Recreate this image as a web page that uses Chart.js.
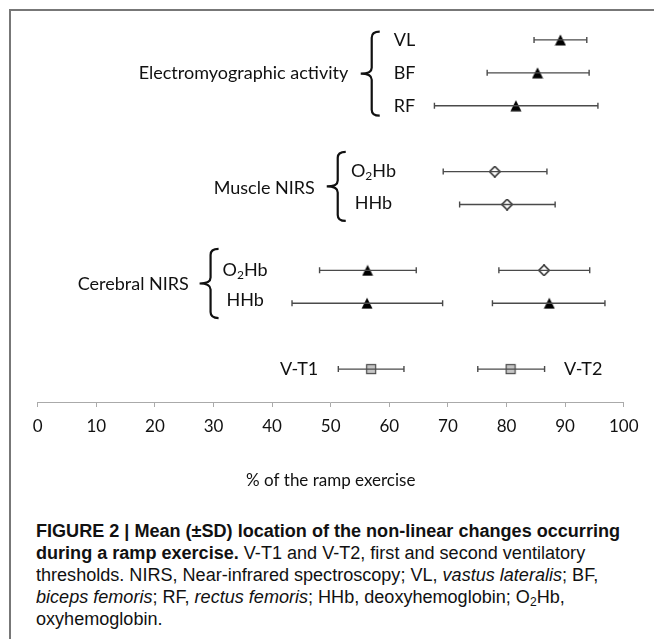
<!DOCTYPE html>
<html>
<head>
<meta charset="utf-8">
<script src="https://cdn.jsdelivr.net/npm/chart.js@4.4.1/dist/chart.umd.min.js"></script>
<style>
  html, body { margin: 0; padding: 0; background: #fff; }
  body { width: 654px; height: 639px; overflow: hidden; position: relative; }
  .edge { position: absolute; background: #777; z-index: 5; }
  #edgeTop { left: 9px; top: 9px; width: 645px; height: 2px; }
  #edgeLeft { left: 9px; top: 9px; width: 2px; height: 630px; }
  #wrap { position: absolute; left: 0; top: 0; width: 654px; height: 510px; }
  #caption { position: absolute; left: 36px; top: 520px; font-family: "Liberation Sans", Arial, sans-serif; font-size: 18px; line-height: 22px; color: #111; }
  #caption div { white-space: nowrap; transform-origin: left center; height: 22px; }
  #caption div span { display: inline-block; }
  #caption sub { font-size: 12px; line-height: 0; vertical-align: -3px; }
</style>
</head>
<body>
<div class="edge" id="edgeTop"></div>
<div class="edge" id="edgeLeft"></div>
<div id="wrap"><canvas id="chart" width="654" height="510"></canvas></div>
<div id="caption">
  <div><span><b>FIGURE 2 | Mean (±SD) location of the non-linear changes occurring</b></span></div>
  <div><span><b>during a ramp exercise.</b> V-T1 and V-T2, first and second ventilatory</span></div>
  <div><span>thresholds. NIRS, Near-infrared spectroscopy; VL, <i>vastus lateralis</i>; BF,</span></div>
  <div><span><i>biceps femoris</i>; RF, <i>rectus femoris</i>; HHb, deoxyhemoglobin; O<sub>2</sub>Hb,</span></div>
  <div><span>oxyhemoglobin.</span></div>
</div>
<script>
// one entry per mark: row level on the hidden y axis, mean and ±SD ends in % of ramp
const rows   = [11, 10, 9, 7, 6, 4, 3, 4, 3, 1, 1];
const means  = [89.2, 85.3, 81.6, 78.0, 80.1, 56.3, 56.2, 86.4, 87.3, 56.9, 80.7];
const lows   = [84.7, 76.7, 67.7, 69.2, 72.0, 48.1, 43.4, 78.7, 77.6, 51.3, 75.1];
const highs  = [93.7, 94.1, 95.6, 86.9, 88.3, 64.6, 69.1, 94.2, 96.8, 62.5, 86.5];
const kinds  = ["triangle", "triangle", "triangle", "diamond", "diamond",
                "triangle", "triangle", "diamond", "triangle", "square", "square"];

const xTicks = [0, 10, 20, 30, 40, 50, 60, 70, 80, 90, 100];

// labels beside the marks
const groupLabels = ["Electromyographic activity", "Muscle NIRS", "Cerebral NIRS"];
const rowLabels = ["VL", "BF", "RF", "O2Hb", "HHb", "O2Hb", "HHb", "V-T1", "V-T2"];

const FONT = "Lato, 'Open Sans', sans-serif";
const TXT = "#111";
const BAR = "#4a4a4a";

function makeMarker(kind) {
  const c = document.createElement("canvas");
  c.width = 12; c.height = 12;
  const g = c.getContext("2d");
  if (kind === "triangle") {
    g.beginPath();
    g.moveTo(6, 0.5); g.lineTo(11.5, 11.5); g.lineTo(0.5, 11.5); g.closePath();
    g.fillStyle = "#000"; g.fill();
  } else if (kind === "diamond") {
    g.beginPath();
    g.moveTo(6, 0.8); g.lineTo(11.2, 6); g.lineTo(6, 11.2); g.lineTo(0.8, 6); g.closePath();
    g.fillStyle = "#fff"; g.fill();
    g.lineWidth = 1.5; g.strokeStyle = "#222"; g.stroke();
  } else {
    g.fillStyle = "#c6c6c6"; g.fillRect(1, 1, 10, 10);
    g.lineWidth = 1.2; g.strokeStyle = "#4a4a4a"; g.strokeRect(1.5, 1.5, 9, 9);
  }
  return c;
}

const datasets = [];
// error bars
for (let i = 0; i < means.length; i++) {
  datasets.push({
    data: [{ x: lows[i], y: rows[i] }, { x: highs[i], y: rows[i] }],
    showLine: true,
    borderColor: BAR,
    borderWidth: 1.4,
    pointStyle: "line",
    pointRotation: 90,
    pointRadius: 3,
    pointBorderWidth: 1.4,
    pointBorderColor: BAR,
  });
}
// mean markers
["triangle", "diamond", "square"].forEach(function (k) {
  const pts = [];
  for (let i = 0; i < means.length; i++) {
    if (kinds[i] === k) pts.push({ x: means[i], y: rows[i] });
  }
  datasets.push({ data: pts, pointStyle: makeMarker(k), pointRadius: 6 });
});

function drawText(ctx, text, cx, cy, align) {
  // handles the subscript 2 in O2Hb
  const main = "18px " + FONT, sub = "12px " + FONT;
  let parts = [{ t: text, f: main, dy: 0 }];
  if (text === "O2Hb") parts = [{ t: "O", f: main, dy: 0 }, { t: "2", f: sub, dy: 5 }, { t: "Hb", f: main, dy: 0 }];
  let w = 0;
  parts.forEach(function (p) { ctx.font = p.f; p.w = ctx.measureText(p.t).width; w += p.w; });
  let x = align === "right" ? cx - w : align === "center" ? cx - w / 2 : cx;
  ctx.textBaseline = "middle";
  ctx.textAlign = "left";
  ctx.fillStyle = TXT;
  parts.forEach(function (p) { ctx.font = p.f; ctx.fillText(p.t, x, cy + p.dy); x += p.w; });
}

function brace(ctx, x, top, bottom) {
  const mid = (top + bottom) / 2, hook = 8, tip = 11, r = 6;
  ctx.beginPath();
  ctx.moveTo(x + hook, top);
  ctx.quadraticCurveTo(x, top, x, top + r);
  ctx.lineTo(x, mid - r);
  ctx.quadraticCurveTo(x, mid, x - tip, mid);
  ctx.quadraticCurveTo(x, mid, x, mid + r);
  ctx.lineTo(x, bottom - r);
  ctx.quadraticCurveTo(x, bottom, x + hook, bottom);
  ctx.lineWidth = 2.2;
  ctx.strokeStyle = TXT;
  ctx.stroke();
}

const annotations = {
  id: "annotations",
  afterDatasetsDraw(chart) {
    const ctx = chart.ctx, xs = chart.scales.x, ys = chart.scales.y;
    const X = v => xs.getPixelForValue(v), Y = v => ys.getPixelForValue(v);
    ctx.save();
    // group names and braces
    drawText(ctx, groupLabels[0], X(53.0), Y(10), "right");
    brace(ctx, X(57.0), Y(11.25), Y(8.7));
    drawText(ctx, groupLabels[1], X(47.3), Y(6.5), "right");
    brace(ctx, X(51.2), Y(7.6), Y(5.5));
    drawText(ctx, groupLabels[2], X(25.8), Y(3.58), "right");
    brace(ctx, X(29.5), Y(4.65), Y(2.55));
    // row names
    drawText(ctx, rowLabels[0], X(62.6), Y(11), "center");
    drawText(ctx, rowLabels[1], X(62.6), Y(10), "center");
    drawText(ctx, rowLabels[2], X(62.6), Y(9), "center");
    drawText(ctx, rowLabels[3], X(57.3), Y(7), "center");
    drawText(ctx, rowLabels[4], X(57.3), Y(6.05), "center");
    drawText(ctx, rowLabels[5], X(35.4), Y(4), "center");
    drawText(ctx, rowLabels[6], X(35.4), Y(3.1), "center");
    drawText(ctx, rowLabels[7], X(44.6), Y(1), "center");
    drawText(ctx, rowLabels[8], X(93.1), Y(1), "center");
    ctx.restore();
  }
};

new Chart("chart", {
  type: "scatter",
  data: { datasets: datasets },
  options: {
    responsive: false,
    animation: false,
    events: [],
    layout: { padding: { left: 37.7, right: 30.3, top: 3, bottom: 0 } },
    plugins: { legend: { display: false }, tooltip: { enabled: false } },
    scales: {
      x: {
        type: "linear",
        position: "bottom",
        min: 0,
        max: 100,
        afterBuildTicks: s => { s.ticks = xTicks.map(v => ({ value: v })); },
        afterFit: s => { s.height = 108; },
        ticks: { color: TXT, font: { family: FONT, size: 17 }, padding: 9, maxRotation: 0 },
        grid: { drawOnChartArea: false, drawTicks: true, tickLength: 5, color: "#aaa" },
        border: { color: "#aaa", width: 1 },
        title: {
          display: true,
          text: "% of the ramp exercise",
          color: TXT,
          font: { family: FONT, size: 17 },
          padding: { top: 0, bottom: 19 },
        },
      },
      y: { display: false, min: 0, max: 12 },
    },
  },
  plugins: [annotations],
});

// squeeze the caption to the condensed width of the original
const capLines = document.querySelectorAll("#caption div");
const firstW = capLines[0].querySelector("span").getBoundingClientRect().width;
const k = 584 / firstW;
capLines.forEach(function (d) { d.style.transform = "scaleX(" + k + ")"; });
</script>
</body>
</html>
